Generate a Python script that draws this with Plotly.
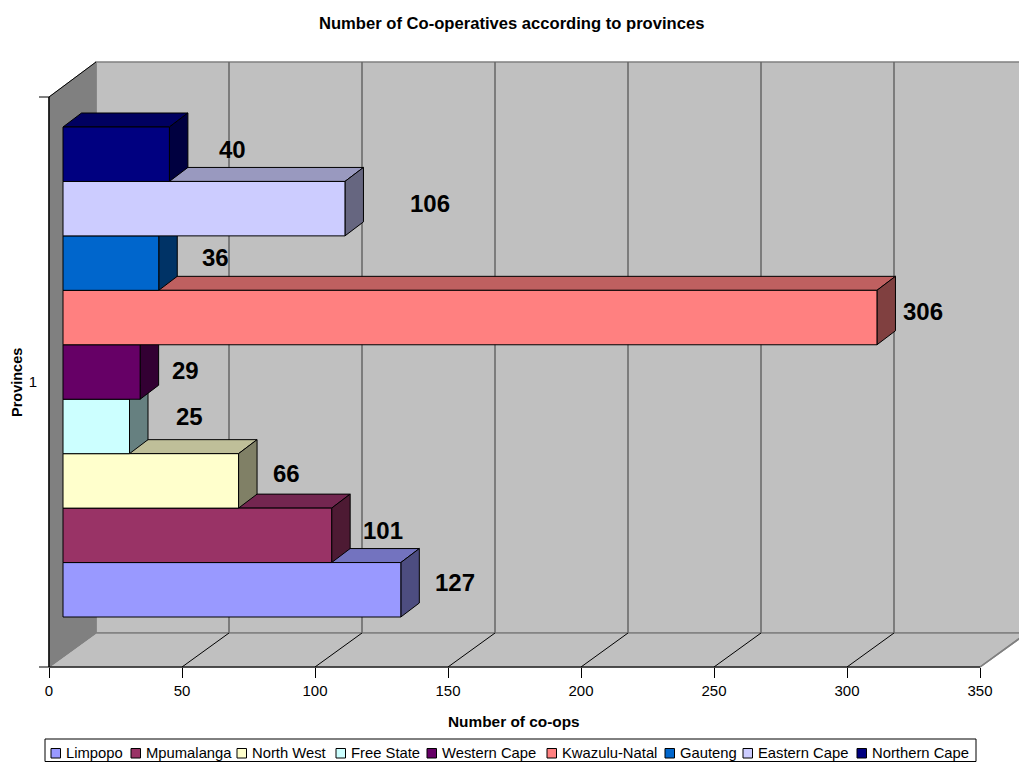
import plotly.graph_objects as go

# ---- data ----
provinces = ["Limpopo", "Mpumalanga", "North West", "Free State", "Western Cape",
             "Kwazulu-Natal", "Gauteng", "Eastern Cape", "Northern Cape"]
coops = [127, 101, 66, 25, 29, 306, 36, 106, 40]
x_ticks = [0, 50, 100, 150, 200, 250, 300, 350]
title_text = "Number of Co-operatives according to provinces"
x_title = "Number of co-ops"
y_title = "Provinces"
category_label = "1"

# ---- style ----
front = ["#9999FF", "#993366", "#FFFFCC", "#CCFFFF", "#660066",
         "#FF8080", "#0066CC", "#CCCCFF", "#000080"]
top_face = ["#7373BF", "#732650", "#BFBF99", "#99BFBF", "#4D004D",
            "#BF6060", "#004D99", "#9999BF", "#000060"]
side_face = ["#4D4D80", "#4D1A33", "#808066", "#668080", "#330033",
             "#804040", "#003366", "#666680", "#000040"]
label_dx = [54, 51, 48, 60, 45, 46, 57, 85, 63]      # px, label centre past bar end
label_dy = [7, 4.7, 7, 10, 1.4, 6, 5.5, 5, 4.6]      # px, label centre above bar centre
legend_swatch_px = [51, 131, 237, 336, 427, 547, 665, 743, 857]

W, H = 1019, 762
PX_X = 2.66      # px per unit
PX_Y = 570.0     # px per y unit
X0_PX, Y0_PX = 49, 667
x_range = [-X0_PX / PX_X, (W - X0_PX) / PX_X]
y_range = [-(H - Y0_PX) / PX_Y, Y0_PX / PX_Y]

back_dx, back_dy = 47 / PX_X, 34 / PX_Y      # floor depth
wall_top = 1 + 35 / PX_Y
bar_x0 = 14 / PX_X
depth_dx, depth_dy = 18.5 / PX_X, 14 / PX_Y
bars_bottom = (Y0_PX - 617) / PX_Y
band = (617 - 127) / 9 / PX_Y

FONT = "Liberation Sans, Arial, sans-serif"
fig = go.Figure()


def poly(xs, ys, fill, line="black", width=1):
    fig.add_trace(go.Scatter(x=xs, y=ys, mode="lines", fill="toself", fillcolor=fill,
                             line=dict(color=line, width=width), hoverinfo="skip",
                             showlegend=False))


def line(xs, ys, color, width=1):
    fig.add_trace(go.Scatter(x=xs, y=ys, mode="lines", line=dict(color=color, width=width),
                             hoverinfo="skip", showlegend=False))


xmax = x_ticks[-1]
# back wall, floor, side wall
poly([back_dx, xmax + back_dx + 5, xmax + back_dx + 5, back_dx, back_dx],
     [back_dy, back_dy, wall_top, wall_top, back_dy], "#C0C0C0", "#808080", 1.5)
poly([0, back_dx, xmax + back_dx, xmax, 0], [0, back_dy, back_dy, 0, 0], "#C0C0C0", "#808080", 1.5)
poly([0, back_dx, back_dx, 0, 0], [0, back_dy, wall_top, 1, 0], "#808080", "#808080", 1)
line([0, back_dx], [1, wall_top], "black", 1)
line([0, 0], [0, 1], "black", 1.5)

# gridlines
for t in x_ticks[1:-1]:
    line([t, t + back_dx], [0, back_dy], "black", 1)
    line([t + back_dx, t + back_dx], [back_dy, wall_top], "#666666", 1.5)
line([xmax, xmax + back_dx], [0, back_dy], "#808080", 1.5)
line([-10 / PX_X, xmax], [0, 0], "black", 1)
line([-10 / PX_X, 0], [1, 1], "black", 1)

# 3-D faces, drawn bottom bar first
for i, v in enumerate(coops):
    y0 = bars_bottom + i * band
    y1 = y0 + band
    xe = bar_x0 + v
    poly([bar_x0, bar_x0 + depth_dx, xe + depth_dx, xe, bar_x0],
         [y1, y1 + depth_dy, y1 + depth_dy, y1, y1], top_face[i])
    poly([xe, xe + depth_dx, xe + depth_dx, xe, xe],
         [y0, y0 + depth_dy, y1 + depth_dy, y1, y0], side_face[i])

# front faces on an overlay so they sit above the faces
for i, v in enumerate(coops):
    fig.add_trace(go.Bar(x=[v], y=[bars_bottom + (i + 0.5) * band], base=bar_x0, width=band,
                         orientation="h", name=provinces[i], xaxis="x2", yaxis="y2",
                         marker=dict(color=front[i], line=dict(color="black", width=1)),
                         showlegend=False))

annotations = []
for i, v in enumerate(coops):
    annotations.append(dict(x=bar_x0 + v + label_dx[i] / PX_X,
                            y=bars_bottom + (i + 0.5) * band + label_dy[i] / PX_Y,
                            xref="x", yref="y", text=f"<b>{v}</b>", showarrow=False,
                            xanchor="center", yanchor="middle",
                            font=dict(family=FONT, size=24, color="black")))

def paper(px, py, text, size, bold=False, angle=0, xanchor="center"):
    annotations.append(dict(x=px / W, y=1 - py / H, xref="paper", yref="paper", showarrow=False,
                            text=f"<b>{text}</b>" if bold else text, textangle=angle,
                            xanchor=xanchor, yanchor="middle",
                            font=dict(family=FONT, size=size, color="black")))

paper(511, 24, title_text, 16.6, True)
paper(514, 721, x_title, 15.4, True)
paper(17, 383, y_title, 14.5, True, angle=-90)

shapes = [dict(type="rect", xref="paper", yref="paper", x0=45 / W, x1=976 / W,
               y0=1 - 761.5 / H, y1=1 - 739 / H, line=dict(color="black", width=1),
               fillcolor="white", layer="below")]
for i, name in enumerate(provinces):
    sx = legend_swatch_px[i]
    shapes.append(dict(type="rect", xref="paper", yref="paper", x0=sx / W, x1=(sx + 9.5) / W,
                       y0=1 - 758 / H, y1=1 - 748.5 / H, fillcolor=front[i],
                       line=dict(color="black", width=1)))
    paper(sx + 13, 752.5, name, 14.8, xanchor="left")

axis_font = dict(family=FONT, size=15, color="black")
fig.update_layout(
    width=W, height=H, autosize=False,
    margin=dict(l=0, r=0, t=0, b=0, pad=0),
    paper_bgcolor="white", plot_bgcolor="white", showlegend=False, barmode="overlay",
    annotations=annotations, shapes=shapes,
    xaxis=dict(range=x_range, domain=[0, 1], anchor="free", position=(H - Y0_PX) / H,
               tickmode="array", tickvals=x_ticks, ticktext=[str(t) for t in x_ticks],
               ticks="outside", ticklen=10, tickcolor="black", tickfont=axis_font,
               showgrid=False, zeroline=False, showline=False, fixedrange=True),
    yaxis=dict(range=y_range, domain=[0, 1], anchor="free", position=X0_PX / W,
               tickmode="array", tickvals=[0.5], ticktext=[category_label],
               ticks="outside", ticklen=9, tickcolor="rgba(0,0,0,0)", tickfont=axis_font,
               showgrid=False, zeroline=False, showline=False, fixedrange=True),
    xaxis2=dict(range=x_range, overlaying="x", anchor="y2", visible=False, fixedrange=True),
    yaxis2=dict(range=y_range, overlaying="y", anchor="x2", visible=False, fixedrange=True),
)
fig.write_html("out.html", config={"displayModeBar": False},
               post_script="document.body.style.margin='0';document.documentElement.style.overflow='hidden';")
